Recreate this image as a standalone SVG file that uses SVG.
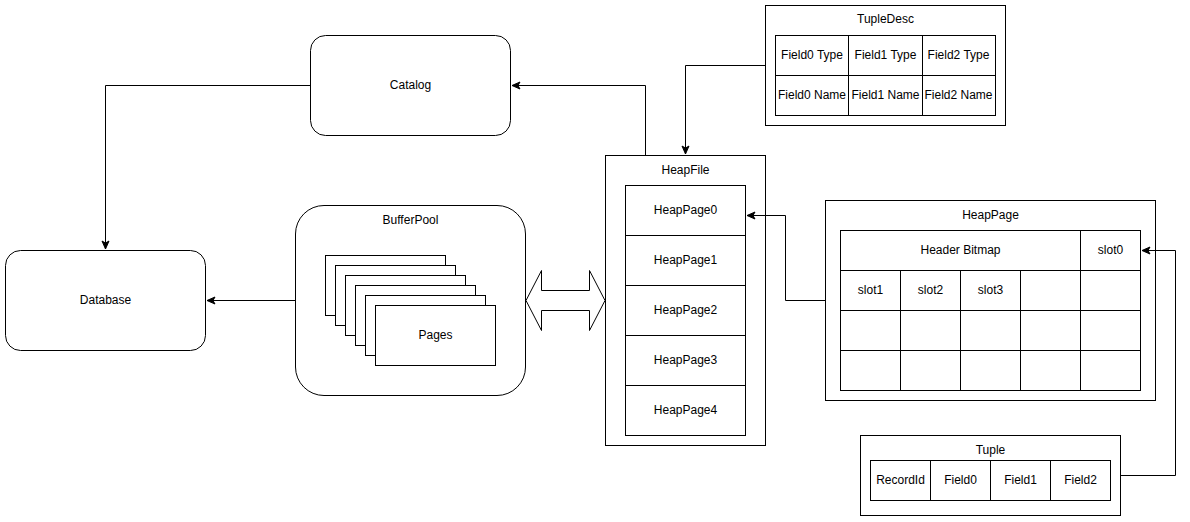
<svg xmlns="http://www.w3.org/2000/svg" width="1190" height="522" viewBox="0 0 1190 522">
<style>
.b{fill:#fff;stroke:#000;stroke-width:1}
.t{font-family:"Liberation Sans",Arial,Helvetica,sans-serif;font-size:12px;fill:#000;text-anchor:middle;dominant-baseline:central}
.c{fill:none;stroke:#000;stroke-width:1}
</style>
<defs>
<marker id="ah" markerUnits="userSpaceOnUse" markerWidth="10" markerHeight="10" viewBox="0 0 10 10" refX="9" refY="5" orient="auto">
<path d="M1,1.5 L9,5 L1,8.5 L3,5 Z" fill="#000" stroke="#000" stroke-width="1"/>
</marker>
</defs>
<rect width="1190" height="522" fill="#fff"/>
<g id="catalog">
<rect class="b" x="310.5" y="35.5" width="200" height="100" rx="15" ry="15"/>
<text class="t" x="410.5" y="85">Catalog</text>
</g>
<g id="database">
<rect class="b" x="5.5" y="250.5" width="200" height="100" rx="15" ry="15"/>
<text class="t" x="105.5" y="300">Database</text>
</g>
<g id="bufferpool">
<rect class="b" x="295.5" y="205.5" width="230" height="190" rx="28.5" ry="28.5"/>
<text class="t" x="410.5" y="220">BufferPool</text>
<rect class="b" x="325.5" y="255.5" width="120" height="60"/>
<rect class="b" x="335.5" y="265.5" width="120" height="60"/>
<rect class="b" x="345.5" y="275.5" width="120" height="60"/>
<rect class="b" x="355.5" y="285.5" width="120" height="60"/>
<rect class="b" x="365.5" y="295.5" width="120" height="60"/>
<rect class="b" x="375.5" y="305.5" width="120" height="60"/>
<text class="t" x="435.5" y="335">Pages</text>
</g>
<g id="heapfile">
<rect class="b" x="605.5" y="155.5" width="160" height="290"/>
<text class="t" x="685.5" y="170">HeapFile</text>
<rect class="b" x="625.5" y="185.5" width="120" height="50"/>
<rect class="b" x="625.5" y="235.5" width="120" height="50"/>
<rect class="b" x="625.5" y="285.5" width="120" height="50"/>
<rect class="b" x="625.5" y="335.5" width="120" height="50"/>
<rect class="b" x="625.5" y="385.5" width="120" height="50"/>
<text class="t" x="685.5" y="210">HeapPage0</text>
<text class="t" x="685.5" y="260">HeapPage1</text>
<text class="t" x="685.5" y="310">HeapPage2</text>
<text class="t" x="685.5" y="360">HeapPage3</text>
<text class="t" x="685.5" y="410">HeapPage4</text>
</g>
<g id="tupledesc">
<rect class="b" x="765.5" y="5.5" width="240" height="120"/>
<text class="t" x="885.5" y="18.5">TupleDesc</text>
<rect class="b" x="775.5" y="35.5" width="220" height="80"/>
<path class="c" d="M775.5,75.5 H995.5 M848.5,35.5 V115.5 M922.5,35.5 V115.5"/>
<text class="t" x="812" y="55">Field0 Type</text>
<text class="t" x="885.5" y="55">Field1 Type</text>
<text class="t" x="958.5" y="55">Field2 Type</text>
<text class="t" x="812" y="95">Field0 Name</text>
<text class="t" x="885.5" y="95">Field1 Name</text>
<text class="t" x="958.5" y="95">Field2 Name</text>
</g>
<g id="heappage">
<rect class="b" x="825.5" y="200.5" width="330" height="200"/>
<text class="t" x="990.5" y="214.5">HeapPage</text>
<rect class="b" x="840.5" y="230.5" width="300" height="160"/>
<path class="c" d="M840.5,270.5 H1140.5 M840.5,310.5 H1140.5 M840.5,350.5 H1140.5 M1080.5,230.5 V390.5 M900.5,270.5 V390.5 M960.5,270.5 V390.5 M1020.5,270.5 V390.5"/>
<text class="t" x="960.5" y="250">Header Bitmap</text>
<text class="t" x="1110.5" y="250">slot0</text>
<text class="t" x="870.5" y="290">slot1</text>
<text class="t" x="930.5" y="290">slot2</text>
<text class="t" x="990.5" y="290">slot3</text>
</g>
<g id="tuple">
<rect class="b" x="860.5" y="435.5" width="260" height="80"/>
<text class="t" x="990.5" y="449.5">Tuple</text>
<rect class="b" x="870.5" y="460.5" width="240" height="40"/>
<path class="c" d="M930.5,460.5 V500.5 M990.5,460.5 V500.5 M1050.5,460.5 V500.5"/>
<text class="t" x="900.5" y="480">RecordId</text>
<text class="t" x="960.5" y="480">Field0</text>
<text class="t" x="1020.5" y="480">Field1</text>
<text class="t" x="1080.5" y="480">Field2</text>
</g>
<g id="connectors">
<polyline class="c" points="310.5,85.5 105.5,85.5 105.5,249" marker-end="url(#ah)"/>
<polyline class="c" points="295.5,300.5 207,300.5" marker-end="url(#ah)"/>
<polyline class="c" points="645.5,155.5 645.5,85.5 512,85.5" marker-end="url(#ah)"/>
<polyline class="c" points="765.5,65.5 685.5,65.5 685.5,154" marker-end="url(#ah)"/>
<polyline class="c" points="825.5,300.5 785.5,300.5 785.5,215.5 747,215.5" marker-end="url(#ah)"/>
<polyline class="c" points="1120.5,475.5 1175.5,475.5 1175.5,250.5 1142,250.5" marker-end="url(#ah)"/>
<polygon class="b" points="526,300.5 541.5,270.5 541.5,290.5 589.5,290.5 589.5,270.5 605,300.5 589.5,330.5 589.5,310.5 541.5,310.5 541.5,330.5"/>
</g>
</svg>
